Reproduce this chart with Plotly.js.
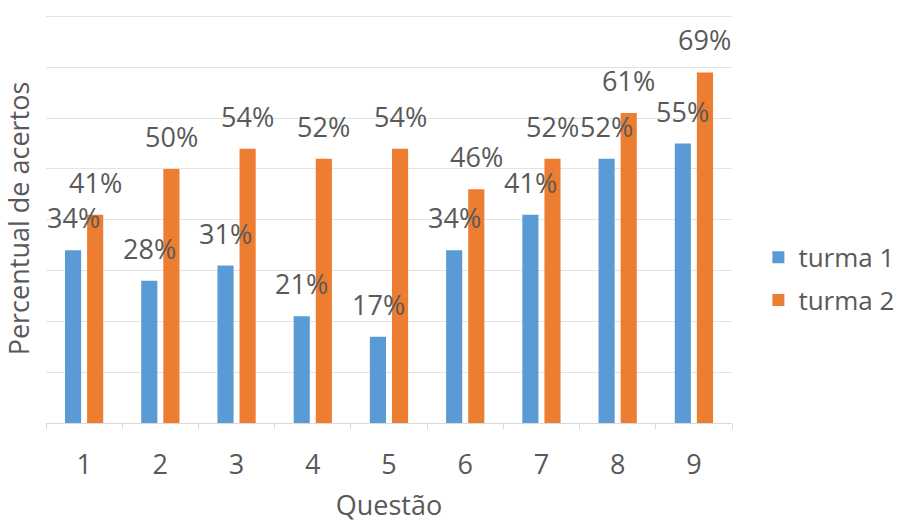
<!DOCTYPE html>
<html>
<head>
<meta charset="utf-8">
<script src="https://cdn.plot.ly/plotly-3.0.1.min.js"></script>
<style>html,body{margin:0;padding:0;background:#fff;}#chart{width:905px;height:523px;}</style>
</head>
<body>
<div id="chart"></div>
<script>
var questoes = ['1','2','3','4','5','6','7','8','9'];
var turma1 = [34, 28, 31, 21, 17, 34, 41, 52, 55];
var turma2 = [41, 50, 54, 52, 54, 46, 52, 61, 69];
var nomes = ['turma 1', 'turma 2'];
var cores = ['#5B9BD5', '#ED7D31'];

var FONT = 'Open Sans, sans-serif';
var GREY = '#595959';
var FS = 27;

var series = [turma1, turma2];
var traces = series.map(function (vals, i) {
  return {
    type: 'bar',
    name: nomes[i],
    x: questoes,
    y: vals,
    marker: {color: cores[i]},
    legendgroup: 'g' + i,
    hoverinfo: 'skip'
  };
});

var annotations = [];
series.forEach(function (vals, i) {
  vals.forEach(function (v, j) {
    annotations.push({
      x: j, y: v, xref: 'x', yref: 'y',
      text: v + '%', showarrow: false,
      xanchor: 'center', yanchor: 'bottom',
      xshift: i === 0 ? -11 : 11, yshift: 12,
      font: {family: FONT, size: FS, color: GREY}
    });
  });
});

var layout = {
  width: 905, height: 523,
  margin: {l: 46, r: 173, t: 14, b: 100, autoexpand: false},
  paper_bgcolor: '#ffffff', plot_bgcolor: '#ffffff',
  barmode: 'group', bargap: 0.42, bargroupgap: 0.27,
  showlegend: true,
  legend: {xref: 'container', yref: 'container', x: 0.838, y: 0.467,
           xanchor: 'left', yanchor: 'middle',
           font: {family: FONT, size: 26, color: GREY}, tracegroupgap: 6,
           itemwidth: 30},
  xaxis: {
    type: 'category',
    range: [-0.5, 8.5],
    automargin: true,
    title: {text: 'Questão', font: {family: FONT, size: FS, color: GREY}, standoff: 22},
    tickfont: {family: FONT, size: FS, color: GREY},
    ticklabelstandoff: 18,
    showgrid: false, showline: true, linecolor: '#D9D9D9', linewidth: 1,
    ticks: 'outside', tickson: 'boundaries', ticklen: 5, tickcolor: '#D9D9D9',
    zeroline: false
  },
  yaxis: {
    range: [0, 80.5], dtick: 10,
    showticklabels: false, ticks: '',
    showgrid: true, gridcolor: '#E3E3E3', gridwidth: 1,
    zeroline: false, showline: false,
    title: {text: 'Percentual de acertos', font: {family: FONT, size: FS, color: GREY}, standoff: 8}
  },
  annotations: annotations
};

Plotly.newPlot('chart', traces, layout, {displayModeBar: false, staticPlot: true});
</script>
</body>
</html>
